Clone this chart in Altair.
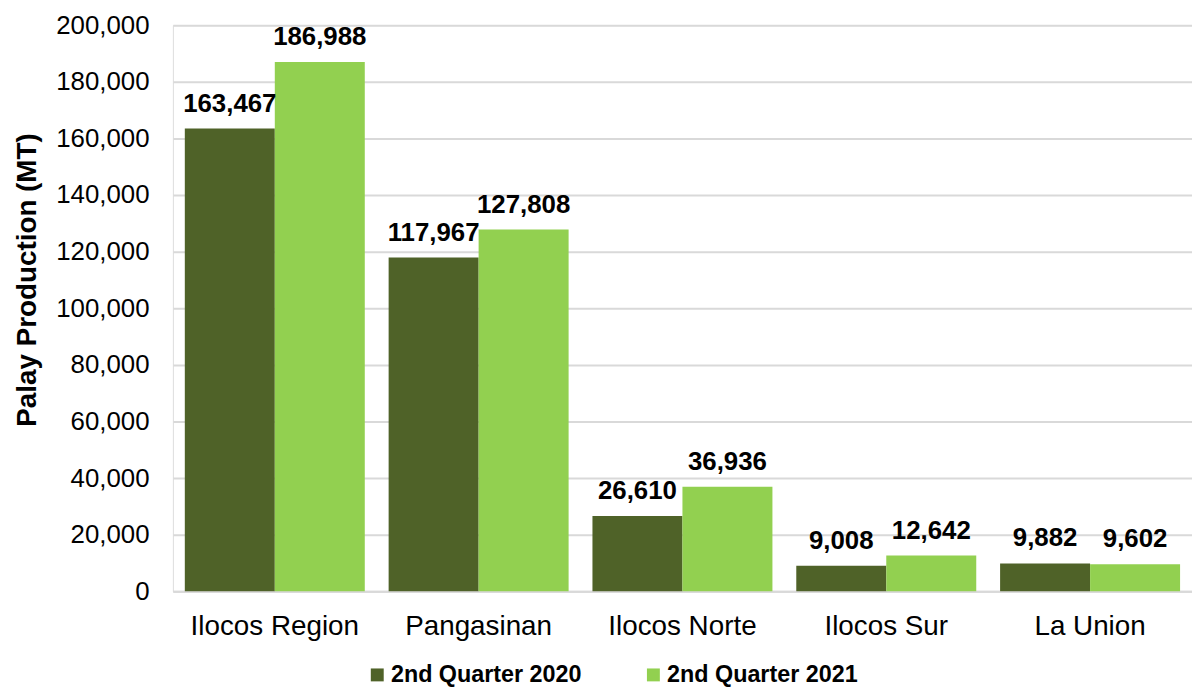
import altair as alt
import pandas as pd

regions = ["Ilocos Region", "Pangasinan", "Ilocos Norte", "Ilocos Sur", "La Union"]
series = ["2nd Quarter 2020", "2nd Quarter 2021"]
q2_2020 = [163467, 117967, 26610, 9008, 9882]
q2_2021 = [186988, 127808, 36936, 12642, 9602]
colors = ["#4F6228", "#92D050"]

rows = []
for i, r in enumerate(regions):
    rows.append({"region": r, "series": series[0], "value": q2_2020[i]})
    rows.append({"region": r, "series": series[1], "value": q2_2021[i]})
df = pd.DataFrame(rows)

FONT = "Liberation Sans"

x = alt.X("region:N", sort=regions, title=None,
          scale=alt.Scale(paddingInner=0.117, paddingOuter=0.0585),
          axis=alt.Axis(labelAngle=0, labelFontSize=28, labelFont=FONT, labelColor="#000000",
                        ticks=False, domainColor="#d9d9d9", domainWidth=2, labelPadding=21))
xo = alt.XOffset("series:N", sort=series, scale=alt.Scale(paddingInner=0, paddingOuter=0))
y = alt.Y("value:Q", title="Palay Production (MT)",
          scale=alt.Scale(domain=[0, 200000], nice=False),
          axis=alt.Axis(values=list(range(0, 200001, 20000)), format=",d",
                        labelFontSize=26, labelFont=FONT, labelColor="#000000",
                        ticks=False, domain=False, gridColor="#d9d9d9", gridWidth=2,
                        labelPadding=24, titleFontSize=28, titleFont=FONT,
                        titleFontWeight="bold", titleColor="#000000", titlePadding=14,
                        titleY=256, titleAlign="center"))

bars = alt.Chart(df).mark_bar().encode(
    x=x, xOffset=xo, y=y,
    color=alt.Color("series:N", sort=series,
                    scale=alt.Scale(domain=series, range=colors),
                    legend=alt.Legend(title=None, orient="none", direction="horizontal",
                                      legendX=194, legendY=642, padding=0,
                                      symbolType="square", symbolSize=169,
                                      symbolStrokeWidth=0, symbolOpacity=1,
                                      labelFontSize=23.5, labelFont=FONT, labelLimit=400,
                                      labelFontWeight="bold", labelColor="#000000",
                                      columnPadding=60, labelOffset=2))
)

labels = alt.Chart(df).mark_text(baseline="alphabetic", dy=-17, fontSize=26,
                                 fontWeight="bold", font=FONT, color="#000000").encode(
    x=x, xOffset=xo, y=y,
    text=alt.Text("value:Q", format=",d")
)

chart = (bars + labels).properties(
    width=1026, height=570,
    autosize=alt.AutoSizeParams(type="none"),
    padding={"left": 166, "top": 15, "right": 0, "bottom": 95},
).configure_view(stroke=None).configure(background="#ffffff")

chart.save("out.html", embed_options={"renderer": "svg", "actions": False})
